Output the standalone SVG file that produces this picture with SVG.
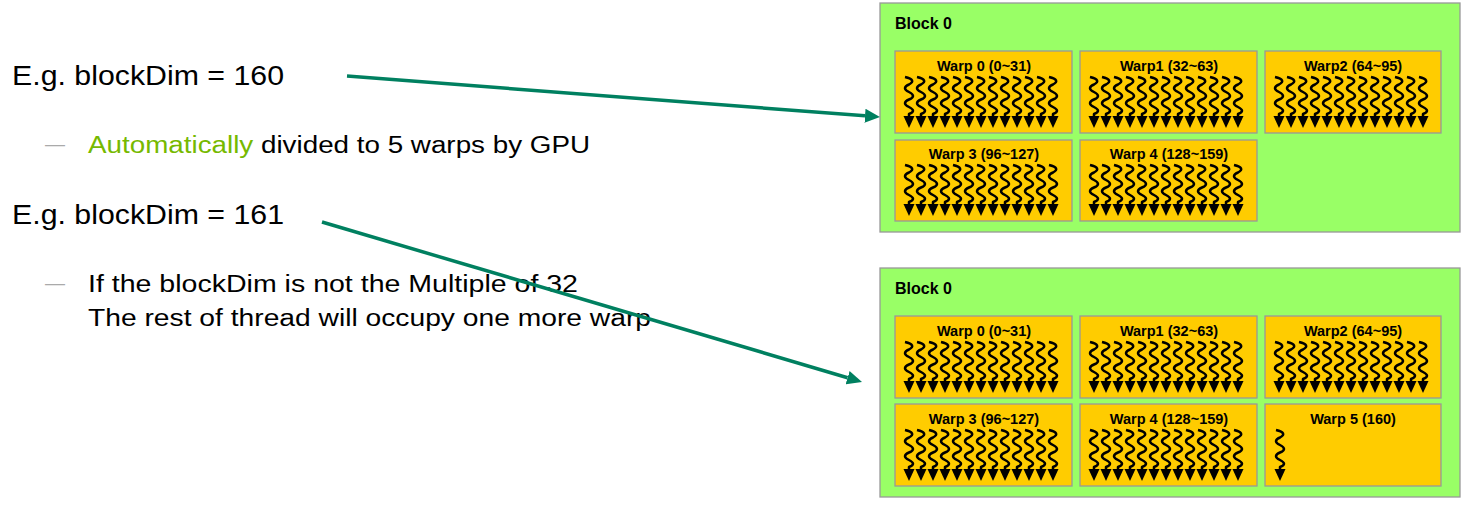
<svg xmlns="http://www.w3.org/2000/svg" xmlns:xlink="http://www.w3.org/1999/xlink" width="1467" height="505" viewBox="0 0 1467 505">
<style>
.blk{fill:#99FF66;stroke:#999999;stroke-width:1.3}
.wp{fill:#FFCC00;stroke:#999999;stroke-width:1.3}
.bl{font-family:"Liberation Sans",Arial,sans-serif;font-weight:bold;font-size:16px;fill:#000}
.wl{font-family:"Liberation Sans",Arial,sans-serif;font-weight:bold;font-size:14.5px;fill:#000;text-anchor:middle}
.wv{fill:none;stroke:#000;stroke-width:2.5;stroke-linejoin:round}
.big{font-family:"Liberation Sans",Arial,sans-serif;font-size:27px;fill:#000}
.sub{font-family:"Liberation Sans",Arial,sans-serif;font-size:23px;fill:#000}
.dash{font-family:"Liberation Sans",Arial,sans-serif;font-size:20px;fill:#AAAAAA}
.con{fill:none;stroke:#008060;stroke-width:3.5}
</style>
<defs>
<marker id="ah" markerUnits="userSpaceOnUse" markerWidth="16" markerHeight="16" viewBox="0 -8 16 16" refX="0" refY="0" orient="auto">
<path d="M0,-7 L15,0 L0,7 Z" fill="#008060"/>
</marker>
<g id="thr">
<path class="wv" d="M-4 0 Q8 3 0 7.5 Q-8 11 0 15 Q8 19 0 22.5 Q-8 26 0 30 Q8 34 0 37 L0 41"/>
<path d="M-5.5 39 L5.5 39 L0 51 Z" fill="#000"/>
</g>
<g id="row">
<use href="#thr" x="0"/><use href="#thr" x="12"/><use href="#thr" x="24"/><use href="#thr" x="36"/><use href="#thr" x="48"/><use href="#thr" x="60"/><use href="#thr" x="72"/><use href="#thr" x="84"/><use href="#thr" x="96"/><use href="#thr" x="108"/><use href="#thr" x="120"/><use href="#thr" x="132"/><use href="#thr" x="144"/>
</g>
</defs>
<rect width="1467" height="505" fill="#FFFFFF"/>

<g id="text-left">
<text class="big" x="12" y="85" textLength="272" lengthAdjust="spacingAndGlyphs">E.g. blockDim = 160</text>
<text class="dash" x="45" y="151">—</text>
<text class="sub" x="88" y="153" textLength="502" lengthAdjust="spacingAndGlyphs"><tspan fill="#76B900">Automatically</tspan> divided to 5 warps by GPU</text>
<text class="big" x="12" y="224" textLength="272" lengthAdjust="spacingAndGlyphs">E.g. blockDim = 161</text>
<text class="dash" x="45" y="290">—</text>
<text class="sub" x="88" y="292" textLength="490" lengthAdjust="spacingAndGlyphs">If the blockDim is not the Multiple of 32</text>
<text class="sub" x="88" y="326" textLength="563" lengthAdjust="spacingAndGlyphs">The rest of thread will occupy one more warp</text>
</g>

<g id="block-a">
<rect class="blk" x="880" y="3" width="580" height="229"/>
<text class="bl" x="895" y="29">Block 0</text>
<g id="a-warp0"><rect class="wp" x="895" y="51" width="177" height="82"/><text class="wl" x="984" y="71">Warp 0 (0~31)</text><use href="#row" x="909" y="77"/></g>
<g id="a-warp1"><rect class="wp" x="1080" y="51" width="177" height="82"/><text class="wl" x="1169" y="71">Warp1 (32~63)</text><use href="#row" x="1094" y="77"/></g>
<g id="a-warp2"><rect class="wp" x="1265" y="51" width="176" height="82"/><text class="wl" x="1353" y="71">Warp2 (64~95)</text><use href="#row" x="1279" y="77"/></g>
<g id="a-warp3"><rect class="wp" x="895" y="140" width="177" height="81"/><text class="wl" x="984" y="159">Warp 3 (96~127)</text><use href="#row" x="909" y="165"/></g>
<g id="a-warp4"><rect class="wp" x="1080" y="140" width="177" height="81"/><text class="wl" x="1169" y="159">Warp 4 (128~159)</text><use href="#row" x="1094" y="165"/></g>
</g>

<g id="block-b">
<rect class="blk" x="880" y="268" width="580" height="229"/>
<text class="bl" x="895" y="294">Block 0</text>
<g id="b-warp0"><rect class="wp" x="895" y="316" width="177" height="82"/><text class="wl" x="984" y="336">Warp 0 (0~31)</text><use href="#row" x="909" y="342"/></g>
<g id="b-warp1"><rect class="wp" x="1080" y="316" width="177" height="82"/><text class="wl" x="1169" y="336">Warp1 (32~63)</text><use href="#row" x="1094" y="342"/></g>
<g id="b-warp2"><rect class="wp" x="1265" y="316" width="176" height="82"/><text class="wl" x="1353" y="336">Warp2 (64~95)</text><use href="#row" x="1279" y="342"/></g>
<g id="b-warp3"><rect class="wp" x="895" y="404" width="177" height="82"/><text class="wl" x="984" y="424">Warp 3 (96~127)</text><use href="#row" x="909" y="430"/></g>
<g id="b-warp4"><rect class="wp" x="1080" y="404" width="177" height="82"/><text class="wl" x="1169" y="424">Warp 4 (128~159)</text><use href="#row" x="1094" y="430"/></g>
<g id="b-warp5"><rect class="wp" x="1265" y="404" width="176" height="82"/><text class="wl" x="1353" y="424">Warp 5 (160)</text><use href="#thr" x="1280" y="430"/></g>
</g>

<g id="connectors">
<path class="con" d="M347 76 L865 115.85" marker-end="url(#ah)"/>
<path class="con" d="M322 222 L847.6 377.7" marker-end="url(#ah)"/>
</g>
</svg>
